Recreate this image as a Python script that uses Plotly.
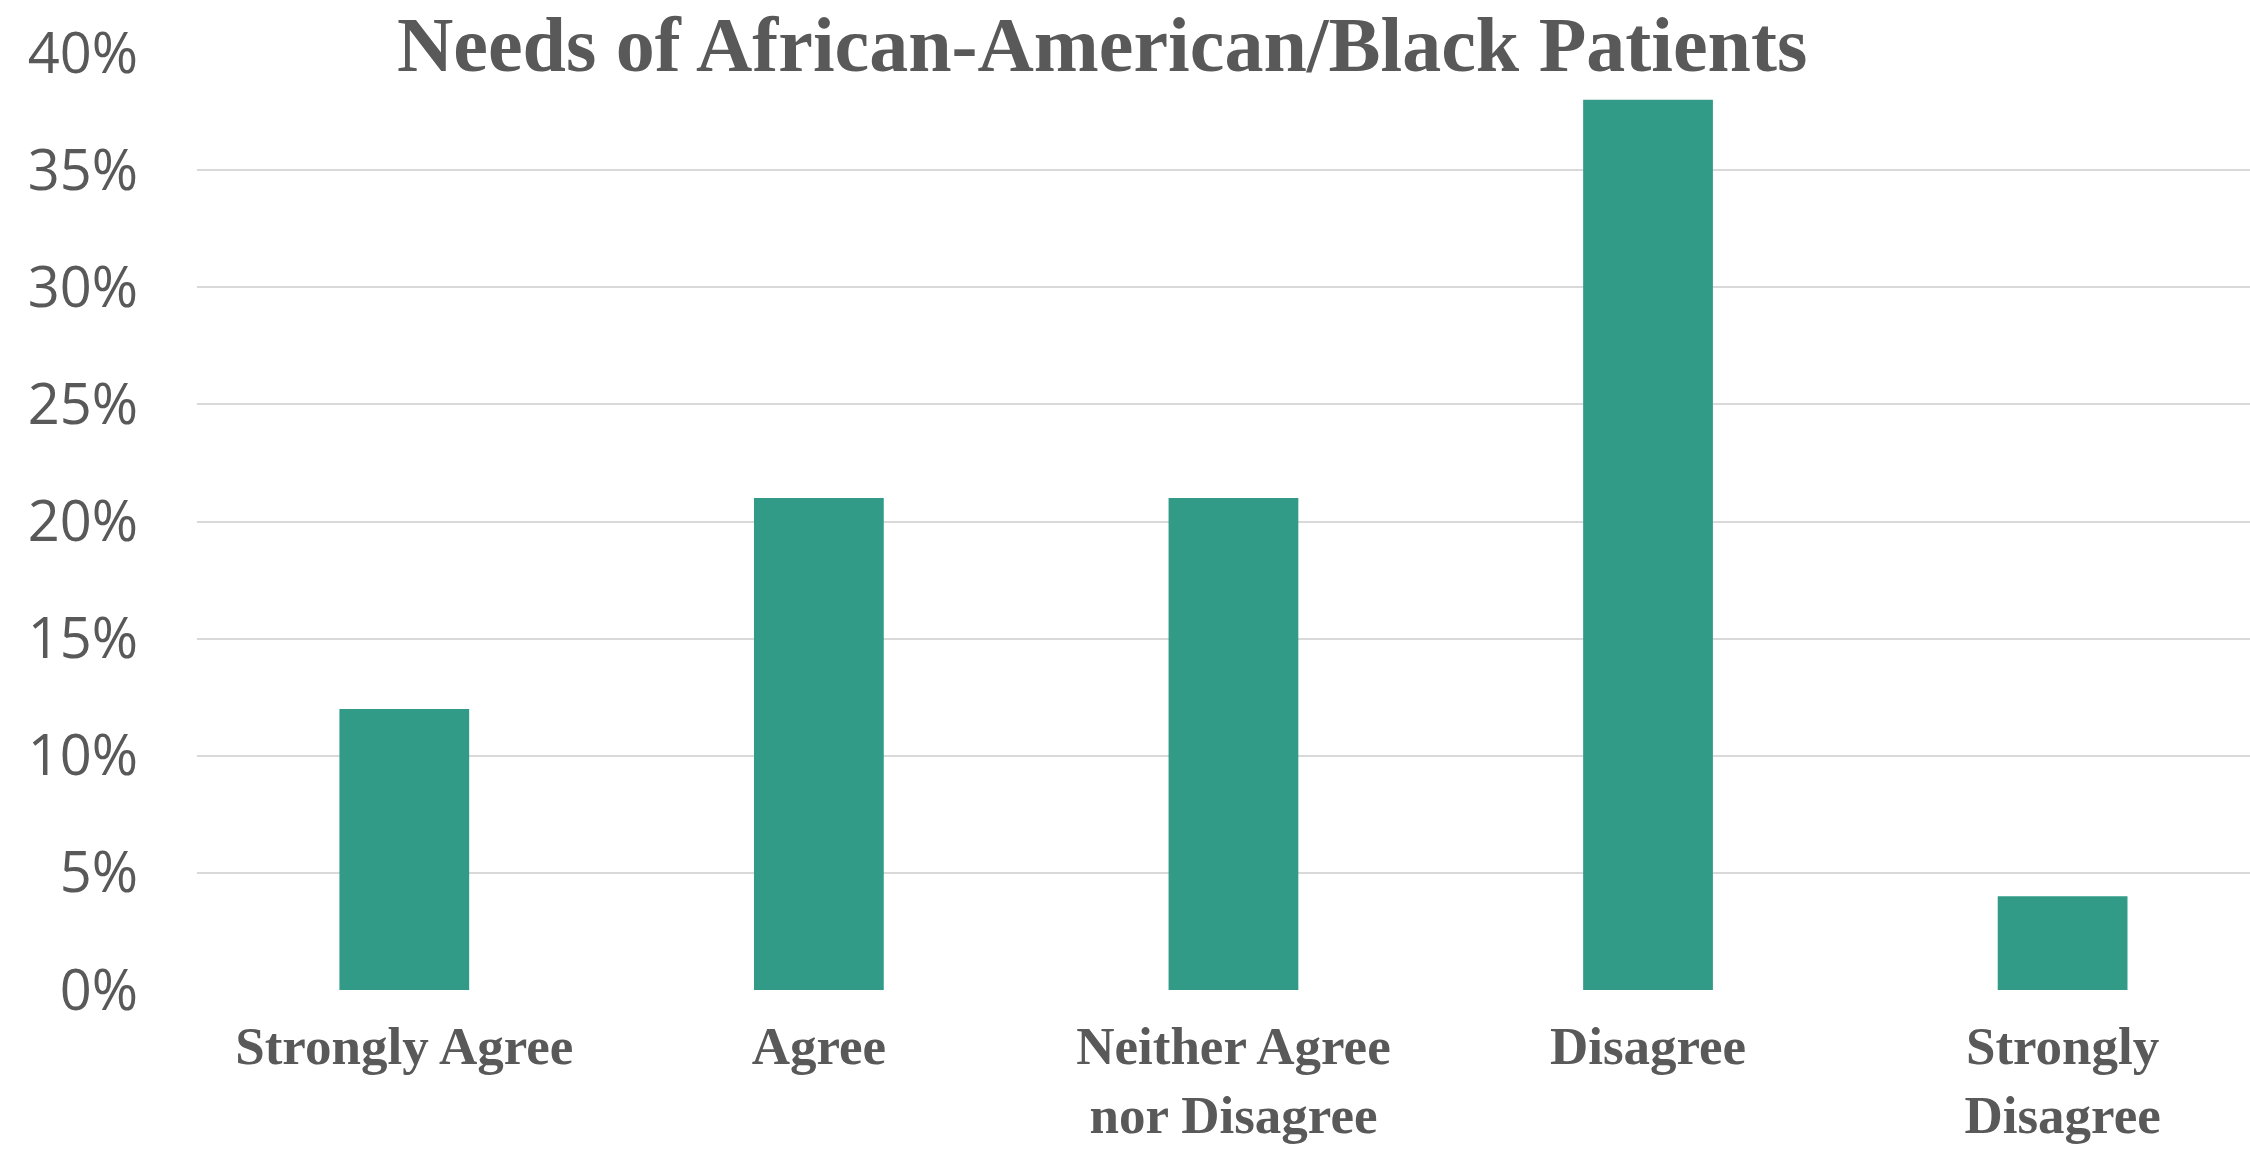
import plotly.graph_objects as go

categories = ["Strongly Agree", "Agree", "Neither Agree<br>nor Disagree", "Disagree", "Strongly<br>Disagree"]
values = [12, 21, 21, 38, 4]
y_ticks = [0, 5, 10, 15, 20, 25, 30, 35, 40]
title_text = "Needs of African-American/Black Patients"

TEXT = "#595959"
BAR = "#319B87"
GRID = "#D9D9D9"

fig = go.Figure()
fig.add_trace(go.Bar(
    x=list(range(len(categories))),
    y=values,
    marker=dict(color=BAR, line=dict(width=0)),
    width=0.313,
))

fig.update_layout(
    width=2250, height=1151,
    margin=dict(l=197, r=0, t=53, b=161, autoexpand=False),
    paper_bgcolor="white", plot_bgcolor="white",
    showlegend=False,
    xaxis=dict(
        range=[-0.5, 4.452],
        tickmode="array",
        tickvals=list(range(len(categories))),
        ticktext=categories,
        showgrid=False, zeroline=False, showline=False,
        ticks="", automargin=False,
        tickfont=dict(family="Liberation Serif", size=53, color=TEXT, weight="bold"),
        ticklabelstandoff=20,
    ),
    yaxis=dict(
        range=[0, 40],
        tickmode="array",
        tickvals=y_ticks,
        ticktext=[f"{v}%" for v in y_ticks],
        showgrid=True, gridcolor=GRID, gridwidth=2,
        zeroline=False, showline=False,
        ticks="", automargin=False,
        tickfont=dict(family="Open Sans", size=56, color=TEXT),
        ticklabelstandoff=58,
    ),
    annotations=[dict(
        text=title_text, xref="paper", yref="paper",
        x=0.441, y=1.0566, xanchor="center", yanchor="top",
        showarrow=False, borderpad=0,
        font=dict(family="Liberation Serif", size=78, color=TEXT, weight="bold"),
    )],
)

fig.write_html("out.html")
